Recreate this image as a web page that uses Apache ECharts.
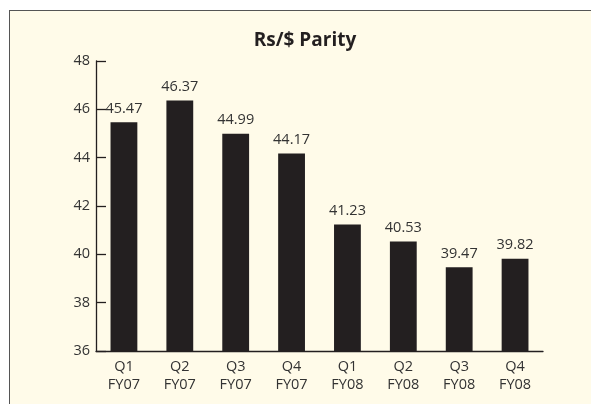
<!DOCTYPE html>
<html>
<head>
<meta charset="utf-8">
<script src="https://cdn.jsdelivr.net/npm/echarts@6/dist/echarts.min.js"></script>
<style>
  html, body { margin: 0; padding: 0; background: #fff; overflow: hidden; }
  .frame {
    position: absolute; left: 9px; top: 10px; width: 640px; height: 440px;
    background: #fffbe9; border-left: 1.5px solid #555; border-top: 1.5px solid #555;
  }
  #chart { position: absolute; left: 0; top: 0; width: 591px; height: 404px; }
</style>
</head>
<body>
<div class="frame"></div>
<div id="chart"></div>
<script>
const quarters = ['Q1\nFY07', 'Q2\nFY07', 'Q3\nFY07', 'Q4\nFY07', 'Q1\nFY08', 'Q2\nFY08', 'Q3\nFY08', 'Q4\nFY08'];
const parity = [45.47, 46.37, 44.99, 44.17, 41.23, 40.53, 39.47, 39.82];

const font = '"Open Sans", "Noto Sans", sans-serif';
const ink = '#231f20';
const textInk = '#333';

const chart = echarts.init(document.getElementById('chart'));
chart.setOption({
  backgroundColor: 'transparent',
  title: {
    text: 'Rs/$ Parity',
    left: 300,
    textAlign: 'center',
    top: 26,
    textStyle: { fontFamily: font, fontSize: 19, fontWeight: 'bold', color: ink }
  },
  grid: { left: 96, right: 48, top: 61, bottom: 53 },
  xAxis: {
    type: 'category',
    data: quarters,
    axisLine: { lineStyle: { color: ink, width: 1.3 } },
    axisTick: { inside: true, length: 6, lineStyle: { color: ink, width: 1.3 } },
    axisLabel: { fontFamily: font, fontSize: 14.5, color: textInk, lineHeight: 18, margin: 7 }
  },
  yAxis: {
    type: 'value',
    min: 36,
    max: 48,
    interval: 2,
    splitLine: { show: false },
    axisLine: { show: true, lineStyle: { color: ink, width: 1.3 } },
    axisTick: { show: true, inside: true, length: 10, lineStyle: { color: ink, width: 1.3 } },
    axisLabel: { fontFamily: font, fontSize: 14.5, color: textInk, margin: 6 }
  },
  series: [{
    type: 'bar',
    data: parity,
    barWidth: '48%',
    itemStyle: { color: ink },
    label: {
      show: true,
      position: 'top',
      distance: 6,
      fontFamily: font,
      fontSize: 14.5,
      color: textInk,
      formatter: p => p.value.toFixed(2)
    }
  }]
});
</script>
</body>
</html>
